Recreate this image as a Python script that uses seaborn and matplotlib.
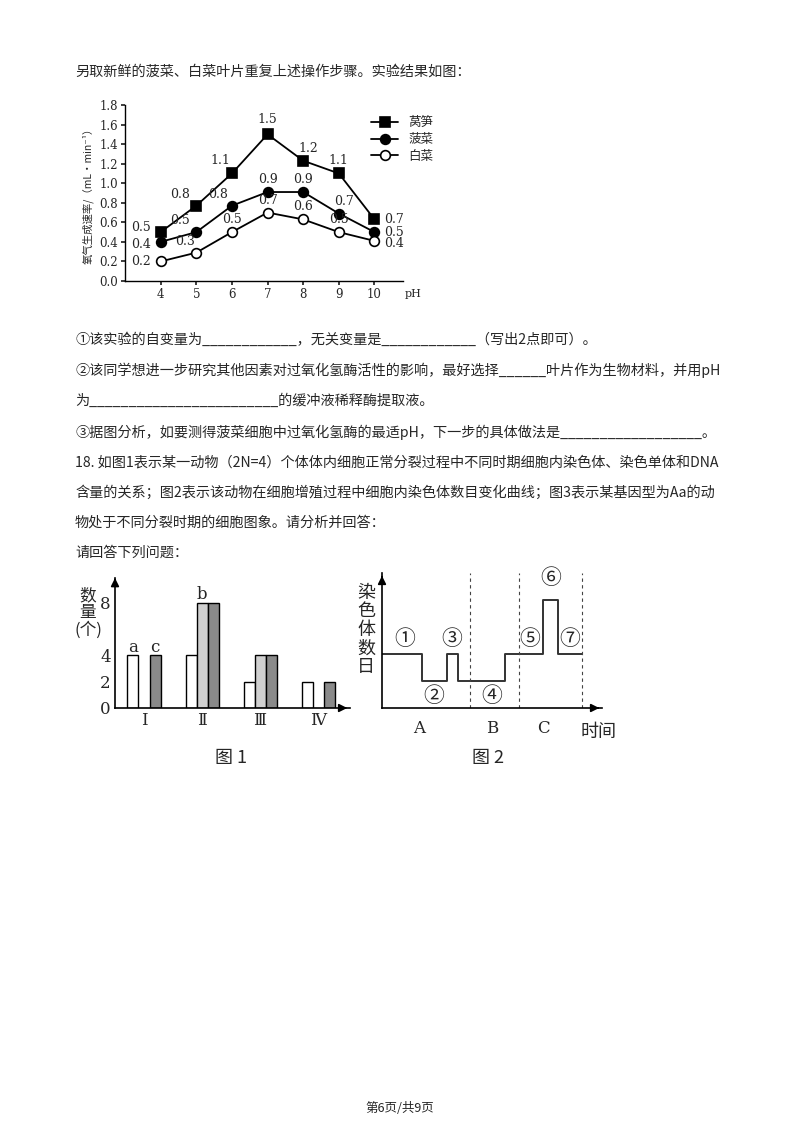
import numpy as np, pandas as pd
import matplotlib
matplotlib.use("Agg")
import matplotlib.pyplot as plt
import seaborn as sns

sns.set_theme(style="white")
plt.rcParams['font.family'] = ['Noto Sans CJK SC', 'DejaVu Sans']

ph = [4, 5, 6, 7, 8, 9, 10]
wosun = [0.5, 0.77, 1.1, 1.5, 1.23, 1.1, 0.63]
wosun_lbl = ["0.5", "0.8", "1.1", "1.5", "1.2", "1.1", "0.7"]
bocai = [0.4, 0.5, 0.77, 0.91, 0.91, 0.69, 0.5]
bocai_lbl = ["0.4", "0.5", "0.8", "0.9", "0.9", "0.7", "0.5"]
baicai = [0.2, 0.29, 0.5, 0.7, 0.63, 0.5, 0.41]
baicai_lbl = ["0.2", "0.3", "0.5", "0.7", "0.6", "0.5", "0.4"]

groups = ["Ⅰ", "Ⅱ", "Ⅲ", "Ⅳ"]
val_a = [4, 4, 2, 2]
val_b = [0, 8, 4, 0]
val_c = [4, 8, 4, 2]

times = [0, 4, 6.5, 7.6, 12.3, 16.1, 17.6, 20]
chrom = [4, 2, 4, 2, 4, 8, 4]

fig = plt.figure(figsize=(8, 11.32), dpi=100)
W, H = 800, 1132
def box(l, t, r, b):
    return [l / W, 1 - b / H, (r - l) / W, (b - t) / H]

# text
def T(x, y, s, fs=10.2, **kw):
    fig.text(x / W, 1 - y / H, s, fontsize=fs, va='center', **kw)
T(75, 72, "另取新鲜的菠菜、白菜叶片重复上述操作步骤。实验结果如图：")
T(75, 340, "①该实验的自变量为____________，无关变量是____________（写出2点即可）。")
T(75, 370, "②该同学想进一步研究其他因素对过氧化氢酶活性的影响，最好选择______叶片作为生物材料，并用pH")
T(75, 401, "为________________________的缓冲液稀释酶提取液。")
T(75, 432, "③据图分析，如要测得菠菜细胞中过氧化氢酶的最适pH，下一步的具体做法是__________________。")
T(75, 463, "18. 如图1表示某一动物（2N=4）个体体内细胞正常分裂过程中不同时期细胞内染色体、染色单体和DNA")
T(75, 493, "含量的关系；图2表示该动物在细胞增殖过程中细胞内染色体数目变化曲线；图3表示某基因型为Aa的动")
T(75, 523, "物处于不同分裂时期的细胞图象。请分析并回答：")
T(75, 553, "请回答下列问题：")
T(400, 1108, "第6页/共9页", fs=9, ha='center')

# line chart
ax = fig.add_axes(box(125, 105, 403, 281))
df = pd.DataFrame({"pH": ph * 3, "v": wosun + bocai + baicai,
                   "s": ["莴笋"] * 7 + ["菠菜"] * 7 + ["白菜"] * 7})
sty = {"莴笋": dict(marker='s', mfc='black'), "菠菜": dict(marker='o', mfc='black'),
       "白菜": dict(marker='o', mfc='white')}
for name in ["莴笋", "菠菜", "白菜"]:
    sub = df[df.s == name]
    sns.lineplot(data=sub, x="pH", y="v", ax=ax, color='black', lw=1.3,
                 marker=sty[name]['marker'], markersize=7,
                 markerfacecolor=sty[name]['mfc'], markeredgecolor='black',
                 markeredgewidth=1.2, label=name)
offs_w = [(-14, 3), (-12, 8), (-8, 9), (0, 11), (4, 9), (0, 9), (14, 0)]
offs_p = [(-14, -2), (-12, 8), (-10, 8), (0, 9), (0, 9), (4, 9), (14, 0)]
offs_c = [(-14, 0), (-8, 8), (0, 9), (0, 9), (0, 9), (0, 9), (14, -2)]
for ys, ls, offs in [(wosun, wosun_lbl, offs_w), (bocai, bocai_lbl, offs_p), (baicai, baicai_lbl, offs_c)]:
    for x, y, l, o in zip(ph, ys, ls, offs):
        ax.annotate(l, (x, y), xytext=o, textcoords='offset points', ha='center', va='center',
                    fontsize=9, family='DejaVu Serif')
ax.set_xlim(3.0, 10.8); ax.set_ylim(0, 1.8)
ax.set_xticks(ph); ax.set_yticks(np.arange(0, 1.81, 0.2))
ax.set_yticklabels([f"{v:.1f}" for v in np.arange(0, 1.81, 0.2)], family='DejaVu Serif', fontsize=8.5)
ax.set_xticklabels([str(p) for p in ph], family='DejaVu Serif', fontsize=8.5)
ax.set_xlabel(""); ax.set_ylabel("氧气生成速率/（mL·min⁻¹）", fontsize=7.5)
ax.text(10.85, -0.08, "pH", fontsize=8, va='top', family='DejaVu Serif')
for s in ['top', 'right']: ax.spines[s].set_visible(False)
for s in ['left', 'bottom']: ax.spines[s].set_color('black'); ax.spines[s].set_linewidth(1)
ax.tick_params(length=3, direction='out', left=True, bottom=True, pad=2)
ax.legend(loc='upper right', bbox_to_anchor=(1.15, 1.0), frameon=False, fontsize=9,
          handlelength=2.2, labelspacing=0.3)
ax.patch.set_alpha(0)

# bar chart (Fig 1)
ax1 = fig.add_axes(box(115, 578, 350, 708))
bd = pd.DataFrame({"g": groups * 3, "v": val_a + val_b + val_c,
                   "k": ["a"] * 4 + ["b"] * 4 + ["c"] * 4})
sns.barplot(data=bd, x="g", y="v", hue="k", ax=ax1, width=0.57,
            palette=["white", "#d0d0d0", "#8a8a8a"], edgecolor='black', linewidth=1, legend=False)
for p in ax1.patches:
    if p.get_height() == 0: p.set_visible(False)
ax1.set_xlim(-0.5, 3.55); ax1.set_ylim(0, 9.9)
ax1.set_yticks([0, 2, 4, 8]); ax1.set_yticklabels(["0", "2", "4", "8"], fontsize=12, family='DejaVu Serif')
ax1.set_xticks(range(4)); ax1.set_xticklabels(groups, fontsize=12, family='DejaVu Serif')
ax1.tick_params(length=0, pad=3)
ax1.set_xlabel(""); ax1.set_ylabel("")
for s in ['top', 'right']: ax1.spines[s].set_visible(False)
for s in ['left', 'bottom']: ax1.spines[s].set_color('black'); ax1.spines[s].set_linewidth(1.2)
ax1.annotate('', xy=(3.55, 0), xytext=(3.4, 0), arrowprops=dict(arrowstyle='-|>', color='black', lw=1.2), annotation_clip=False)
ax1.annotate('', xy=(-0.5, 9.9), xytext=(-0.5, 9.5), arrowprops=dict(arrowstyle='-|>', color='black', lw=1.2), annotation_clip=False)
ax1.text(-0.19, 4.3, "a", fontsize=12, ha='center', family='DejaVu Serif')
ax1.text(0.19, 4.3, "c", fontsize=12, ha='center', family='DejaVu Serif')
ax1.text(1.0, 8.3, "b", fontsize=12, ha='center', family='DejaVu Serif')
fig.text(88 / W, 1 - 613 / H, "数\n量\n(个)", fontsize=12, ha='center', va='center', linespacing=1.0)
fig.text(231 / W, 1 - 758 / H, "图 1", fontsize=13, ha='center', va='center')

# step chart (Fig 2)
ax2 = fig.add_axes(box(382, 573, 602, 708))
sd = pd.DataFrame({"t": times, "n": chrom + [chrom[-1]]})
sns.lineplot(data=sd, x="t", y="n", drawstyle='steps-post', color='#333333', lw=1.4, ax=ax2)
for xv in [8.8, 13.7, 20]:
    ax2.axvline(xv, color='#444444', ls=(0, (3, 3)), lw=0.8)
ax2.set_xlim(0, 22); ax2.set_ylim(0, 10)
ax2.set_xticks([]); ax2.set_yticks([]); ax2.set_xlabel(""); ax2.set_ylabel("")
for s in ['top', 'right']: ax2.spines[s].set_visible(False)
for s in ['left', 'bottom']: ax2.spines[s].set_color('black'); ax2.spines[s].set_linewidth(1.2)
ax2.annotate('', xy=(22, 0), xytext=(21.3, 0), arrowprops=dict(arrowstyle='-|>', color='black', lw=1.2), annotation_clip=False)
ax2.annotate('', xy=(0, 10), xytext=(0, 9.5), arrowprops=dict(arrowstyle='-|>', color='black', lw=1.2), annotation_clip=False)
for lbl, x, y in [("①", 2.3, 5.1), ("②", 5.2, 0.9), ("③", 7.0, 5.1), ("④", 11.0, 0.9),
                  ("⑤", 14.8, 5.1), ("⑥", 16.9, 9.6), ("⑦", 18.8, 5.1)]:
    ax2.text(x, y, lbl, fontsize=15, ha='center', va='center', clip_on=False)
for lbl, x in [("A", 3.7), ("B", 11.0), ("C", 16.1)]:
    ax2.text(x, -1.5, lbl, fontsize=12, ha='center', va='center', family='DejaVu Serif', clip_on=False)
ax2.text(19.9, -1.8, "时间", fontsize=13, ha='left', va='center', clip_on=False)
fig.text(366 / W, 1 - 630 / H, "染\n色\n体\n数\n日", fontsize=13, ha='center', va='center', linespacing=1.05)
fig.text(488 / W, 1 - 758 / H, "图 2", fontsize=13, ha='center', va='center')

fig.savefig("out.png", dpi=100)
